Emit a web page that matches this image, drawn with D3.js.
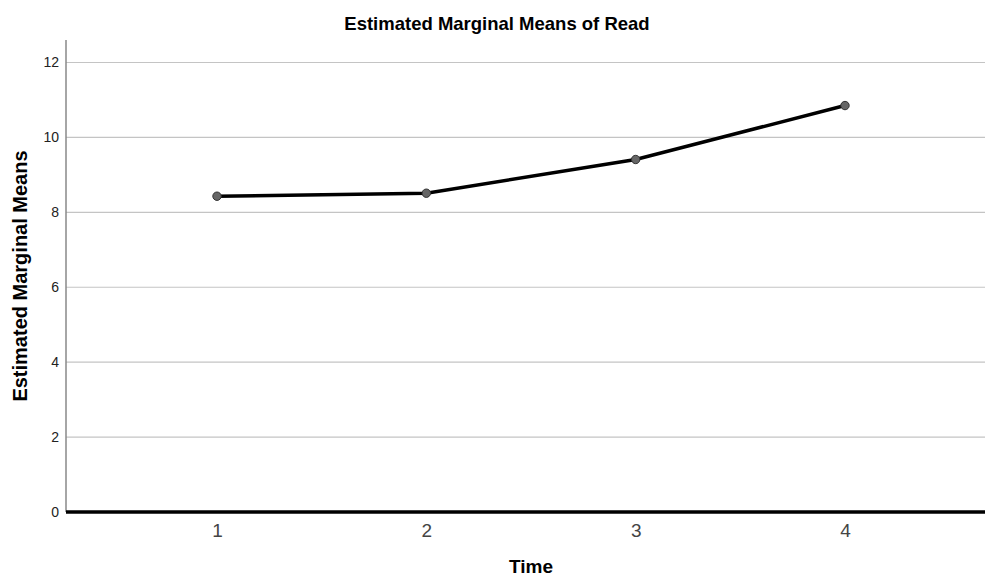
<!DOCTYPE html>
<html lang="en">
<head>
  <meta charset="UTF-8">
  <title>Estimated Marginal Means of Read</title>
  <style>
    body { margin: 0; overflow: hidden; background: #fff; font-family: "Liberation Sans", Arial, sans-serif; }
  </style>
</head>
<body>
<script src="https://d3js.org/d3.v7.min.js"></script>
<script>
// data
const times = ["1", "2", "3", "4"];
const means = [8.43, 8.51, 9.41, 10.85];
const yTicks = [0, 2, 4, 6, 8, 10, 12];

const width = 985, height = 578;
const plotLeft = 66, plotRight = 985, plotTop = 40, plotBottom = 512;

const svg = d3.select("body").append("svg")
  .attr("width", width)
  .attr("height", height);

const x = d3.scalePoint()
  .domain(times)
  .range([217, 845]);

const y = d3.scaleLinear()
  .domain([0, 12.6])
  .range([plotBottom, plotTop]);

// grid lines
svg.append("g")
  .selectAll("line")
  .data(yTicks.filter(d => d > 0))
  .enter().append("line")
    .attr("x1", plotLeft)
    .attr("x2", plotRight)
    .attr("y1", d => y(d))
    .attr("y2", d => y(d))
    .attr("stroke", "#c4c4c4")
    .attr("stroke-width", 1.2);

// y axis
const yAxis = svg.append("g")
  .attr("transform", `translate(${plotLeft},0)`)
  .call(d3.axisLeft(y).tickValues(yTicks).tickSize(0).tickPadding(7));
yAxis.select(".domain").remove();
yAxis.selectAll("text")
  .attr("font-family", "Liberation Sans, Arial, sans-serif")
  .attr("font-size", 14)
  .attr("fill", "#222");

svg.append("line")
  .attr("x1", plotLeft).attr("x2", plotLeft)
  .attr("y1", plotTop).attr("y2", plotBottom)
  .attr("stroke", "#888")
  .attr("stroke-width", 1.5);

// x axis (zero line)
const xAxis = svg.append("g")
  .attr("transform", `translate(0,${plotBottom})`)
  .call(d3.axisBottom(x).tickSize(0).tickPadding(12));
xAxis.select(".domain").remove();
xAxis.selectAll("text")
  .attr("font-family", "Liberation Sans, Arial, sans-serif")
  .attr("font-size", 19)
  .attr("fill", "#444");

svg.append("line")
  .attr("x1", plotLeft).attr("x2", plotRight)
  .attr("y1", y(0)).attr("y2", y(0))
  .attr("stroke", "#000")
  .attr("stroke-width", 3.5);

// mean line
const line = d3.line()
  .x((d, i) => x(times[i]))
  .y(d => y(d));

svg.append("path")
  .datum(means)
  .attr("fill", "none")
  .attr("stroke", "#000")
  .attr("stroke-width", 3.5)
  .attr("d", line);

svg.append("g")
  .selectAll("circle")
  .data(means)
  .enter().append("circle")
    .attr("cx", (d, i) => x(times[i]))
    .attr("cy", d => y(d))
    .attr("r", 4.2)
    .attr("fill", "#666")
    .attr("stroke", "#333")
    .attr("stroke-width", 1);

// titles
svg.append("text")
  .attr("x", 497)
  .attr("y", 30)
  .attr("text-anchor", "middle")
  .attr("font-size", 18.5)
  .attr("font-weight", "bold")
  .attr("fill", "#000")
  .text("Estimated Marginal Means of Read");

svg.append("text")
  .attr("transform", "translate(27,276) rotate(-90)")
  .attr("text-anchor", "middle")
  .attr("font-size", 20)
  .attr("font-weight", "bold")
  .attr("fill", "#000")
  .text("Estimated Marginal Means");

svg.append("text")
  .attr("x", 531)
  .attr("y", 573)
  .attr("text-anchor", "middle")
  .attr("font-size", 19)
  .attr("font-weight", "bold")
  .attr("fill", "#000")
  .text("Time");
</script>
</body>
</html>
